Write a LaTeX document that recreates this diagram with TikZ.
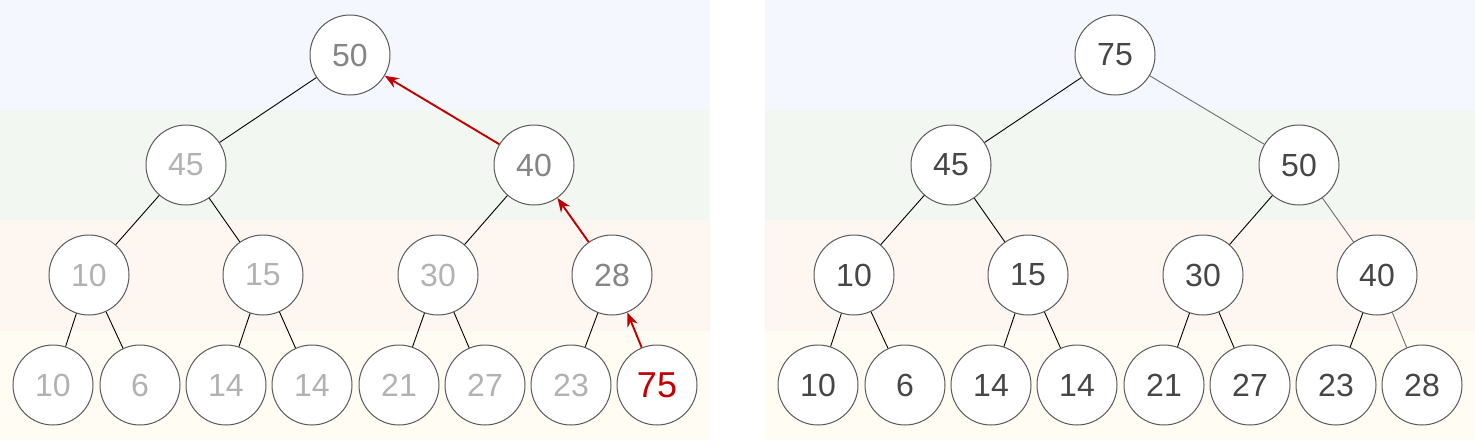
\documentclass[tikz,border=0pt]{standalone}
\usepackage{fontspec}
\setmainfont{Liberation Sans}
\usetikzlibrary{arrows.meta}
\definecolor{bandblue}{RGB}{244,247,253}
\definecolor{bandgreen}{RGB}{242,248,241}
\definecolor{bandorange}{RGB}{254,247,241}
\definecolor{bandyellow}{RGB}{254,252,243}
\definecolor{txtmid}{RGB}{133,133,133}
\definecolor{txtlight}{RGB}{178,178,178}
\definecolor{txtdark}{RGB}{70,70,70}
\definecolor{hotred}{RGB}{192,0,0}
\definecolor{ringgray}{RGB}{90,90,90}
\definecolor{edgegray}{RGB}{110,110,110}
\tikzset{
  heapnode/.style={circle, draw=ringgray, line width=1pt, fill=white, minimum size=80pt, inner sep=0pt, font=\fontsize{32}{32}\selectfont},
  midtxt/.style={text=txtmid},
  lighttxt/.style={text=txtlight},
  darktxt/.style={text=txtdark},
  redtxt/.style={text=hotred, font=\fontsize{36}{36}\selectfont},
  treeedge/.style={draw=black, line width=0.9pt},
  softedge/.style={draw=edgegray, line width=0.9pt},
  swaparrow/.style={draw=hotred, line width=1.9pt, -{Stealth[length=14pt,width=11pt]}}
}
\begin{document}
\begin{tikzpicture}[x=1pt,y=-1pt]
\useasboundingbox (0,0) rectangle (1475,440);
% backgrounds
\foreach \xa/\xb in {0/710, 765/1475}{
  \fill[bandblue] (\xa,0) rectangle (\xb,110);
  \fill[bandgreen] (\xa,110) rectangle (\xb,220);
  \fill[bandorange] (\xa,220) rectangle (\xb,331);
  \fill[bandyellow] (\xa,331) rectangle (\xb,440);
}
% ---------- left tree ----------
\node[heapnode, midtxt] (a1) at (350,55) {50};
\node[heapnode, lighttxt] (a2) at (186,165) {45};
\node[heapnode, midtxt] (a3) at (534,165) {40};
\node[heapnode, lighttxt] (a4) at (89,275) {10};
\node[heapnode, lighttxt] (a5) at (263,275) {15};
\node[heapnode, lighttxt] (a6) at (438,275) {30};
\node[heapnode, midtxt] (a7) at (612,275) {28};
\node[heapnode, lighttxt] (a8) at (53,385) {10};
\node[heapnode, lighttxt] (a9) at (140,385) {6};
\node[heapnode, lighttxt] (a10) at (226,385) {14};
\node[heapnode, lighttxt] (a11) at (312,385) {14};
\node[heapnode, lighttxt] (a12) at (399,385) {21};
\node[heapnode, lighttxt] (a13) at (485,385) {27};
\node[heapnode, lighttxt] (a14) at (571,385) {23};
\node[heapnode, redtxt] (a15) at (657,385) {75};
\draw[treeedge] (a1) -- (a2);
\draw[treeedge] (a2) -- (a4);
\draw[treeedge] (a2) -- (a5);
\draw[treeedge] (a3) -- (a6);
\draw[treeedge] (a4) -- (a8);
\draw[treeedge] (a4) -- (a9);
\draw[treeedge] (a5) -- (a10);
\draw[treeedge] (a5) -- (a11);
\draw[treeedge] (a6) -- (a12);
\draw[treeedge] (a6) -- (a13);
\draw[treeedge] (a7) -- (a14);
\draw[swaparrow] (a15) -- (a7);
\draw[swaparrow] (a7) -- (a3);
\draw[swaparrow] (a3) -- (a1);
% ---------- right tree ----------
\node[heapnode, darktxt] (b1) at (1115,55) {75};
\node[heapnode, darktxt] (b2) at (951,165) {45};
\node[heapnode, darktxt] (b3) at (1299,165) {50};
\node[heapnode, darktxt] (b4) at (854,275) {10};
\node[heapnode, darktxt] (b5) at (1028,275) {15};
\node[heapnode, darktxt] (b6) at (1203,275) {30};
\node[heapnode, darktxt] (b7) at (1377,275) {40};
\node[heapnode, darktxt] (b8) at (818,385) {10};
\node[heapnode, darktxt] (b9) at (905,385) {6};
\node[heapnode, darktxt] (b10) at (991,385) {14};
\node[heapnode, darktxt] (b11) at (1077,385) {14};
\node[heapnode, darktxt] (b12) at (1164,385) {21};
\node[heapnode, darktxt] (b13) at (1250,385) {27};
\node[heapnode, darktxt] (b14) at (1336,385) {23};
\node[heapnode, darktxt] (b15) at (1422,385) {28};
\draw[treeedge] (b1) -- (b2);
\draw[softedge] (b1) -- (b3);
\draw[treeedge] (b2) -- (b4);
\draw[treeedge] (b2) -- (b5);
\draw[treeedge] (b3) -- (b6);
\draw[softedge] (b3) -- (b7);
\draw[treeedge] (b4) -- (b8);
\draw[treeedge] (b4) -- (b9);
\draw[treeedge] (b5) -- (b10);
\draw[treeedge] (b5) -- (b11);
\draw[treeedge] (b6) -- (b12);
\draw[treeedge] (b6) -- (b13);
\draw[treeedge] (b7) -- (b14);
\draw[softedge] (b7) -- (b15);
\end{tikzpicture}
\end{document}
